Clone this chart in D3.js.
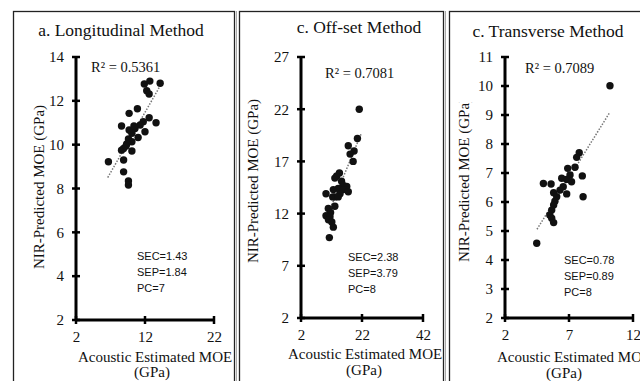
<!DOCTYPE html>
<html>
<head>
<meta charset="utf-8">
<script src="https://cdn.jsdelivr.net/npm/d3@7"></script>
<style>
  body { margin: 0; background: #fff; }
  svg { display: block; }
</style>
</head>
<body>
<svg id="chart" width="640" height="381"></svg>
<script>
// titles and notes
var titles = ["a. Longitudinal Method", "c. Off-set Method", "c. Transverse Method"];
var r2Labels = ["R\u00b2 = 0.5361", "R\u00b2 = 0.7081", "R\u00b2 = 0.7089"];
var statLines = [["SEC=1.43", "SEP=1.84", "PC=7"],
                 ["SEC=2.38", "SEP=3.79", "PC=8"],
                 ["SEC=0.78", "SEP=0.89", "PC=8"]];
var yTitle = "NIR-Predicted MOE (GPa)";
var xTitle = ["Acoustic Estimated MOE", "(GPa)"];

// tick values
var xTicks = [[2, 12, 22], [2, 22, 42], [2, 7, 12]];
var yTicks = [[2, 4, 6, 8, 10, 12, 14], [2, 7, 12, 17, 22, 27], [2, 3, 4, 5, 6, 7, 8, 9, 10, 11]];

// a. longitudinal (acoustic vs NIR)
var longX = [11.9, 12.7, 14.2, 12.25, 12.6, 9.7, 10.9, 8.6, 12.6, 13.6, 11.75, 11.3, 10.55, 9.7, 10.1,
             12.0, 11.0, 9.6, 10.1, 9.35, 8.9, 8.6, 10.1, 6.7, 8.9, 8.9, 9.6, 9.6, 10.4, 9.25];
var longY = [12.77, 12.9, 12.8, 12.46, 12.31, 11.43, 11.64, 10.85, 11.23, 11.0, 11.05, 10.9, 10.74, 10.67, 10.52,
             10.59, 10.33, 10.26, 10.13, 10.03, 9.83, 9.75, 9.71, 9.22, 9.3, 8.76, 8.34, 8.16, 10.85, 9.94];

// c. off-set
var offX = [21.1, 20.5, 17.5, 19.4, 18.1, 19.1, 14.6, 13.7, 13.1, 15.3, 15.9, 17.0, 14.2, 15.9, 17.5,
            12.6, 14.8, 10.2, 13.1, 12.4, 14.2, 13.1, 10.95, 11.7, 10.2, 11.5, 11.0, 12.1, 12.6, 11.3];
var offY = [22.0, 19.2, 18.5, 18.0, 17.7, 17.0, 15.9, 15.6, 15.4, 15.1, 14.7, 14.6, 14.4, 14.3, 14.1,
            14.3, 13.9, 13.9, 13.6, 13.6, 13.6, 12.7, 12.5, 12.1, 11.8, 11.7, 11.4, 11.2, 10.7, 9.7];

// c. transverse
var transX = [10.2, 7.8, 7.6, 7.47, 6.9, 7.08, 8.04, 6.43, 6.82, 7.2, 5.0, 5.6, 6.55, 6.3, 5.8,
              6.82, 8.1, 6.04, 5.9, 5.8, 5.65, 5.5, 5.65, 5.8, 4.48];
var transY = [10.01, 7.7, 7.54, 7.2, 7.16, 6.93, 6.9, 6.82, 6.78, 6.7, 6.64, 6.62, 6.53, 6.41, 6.32,
              6.28, 6.18, 6.18, 6.03, 5.9, 5.72, 5.55, 5.44, 5.29, 4.58];

// trendline ends
var trendX = [[6.6, 14.5], [10.2, 21.8], [4.5, 10.2]];
var trendY = [[8.5, 12.85], [11.5, 19.7], [5.06, 9.1]];

var seriesX = [longX, offX, transX],
    seriesY = [longY, offY, transY];

// layout of each panel
var panels = [
  {frame: [13, 234], xr: [76, 214], yr: [320, 57], title: [121, 36], r2: [91, 72], stats: [137, 260],
   yt: [44, 187], xt1: [78, 362], xt2: [152, 377]},
  {frame: [239, 443], xr: [301, 423], yr: [318, 57], title: [359, 33], r2: [325, 78], stats: [348, 261],
   yt: [258, 181], xt1: [288, 359], xt2: [364, 375]},
  {frame: [449, 700], xr: [505, 633], yr: [318, 57], title: [548, 37], r2: [525, 73], stats: [564, 264],
   yt: [469, 180], xt1: [497, 362], xt2: [564, 378]}
];

var svg = d3.select("#chart");
var serif = "'Liberation Serif', 'Times New Roman', serif";

// the third y title is cut at the top in the original
svg.append("defs").append("clipPath")
    .attr("id", "clipY3")
  .append("rect")
    .attr("x", 440).attr("y", 102.5).attr("width", 60).attr("height", 281);

panels.forEach(function(p, i) {
  var g = svg.append("g");

  // frame
  g.append("rect")
    .attr("x", p.frame[0] + 0.5).attr("y", 11.5)
    .attr("width", p.frame[1] - p.frame[0]).attr("height", 400)
    .attr("fill", "none").attr("stroke", "#222").attr("stroke-width", 1.3);
  g.append("line")
    .attr("x1", p.frame[1] + 2.5).attr("x2", p.frame[1] + 2.5)
    .attr("y1", 11).attr("y2", 381)
    .attr("stroke", "#aaa").attr("stroke-width", 1);

  var xd = d3.extent(xTicks[i]), yd = d3.extent(yTicks[i]);
  var x = d3.scaleLinear().domain(xd).range(p.xr);
  var y = d3.scaleLinear().domain(yd).range(p.yr);

  // tick labels via d3 axes
  var xa = g.append("g")
    .attr("transform", "translate(0," + p.yr[0] + ")")
    .call(d3.axisBottom(x).tickValues(xTicks[i]).tickSize(0).tickPadding(11));
  var ya = g.append("g")
    .attr("transform", "translate(" + p.xr[0] + ",0)")
    .call(d3.axisLeft(y).tickValues(yTicks[i]).tickSize(0).tickPadding(12));
  [xa, ya].forEach(function(a) {
    a.select(".domain").remove();
    a.selectAll("text").attr("font-family", serif).attr("font-size", "15px").attr("fill", "#111");
  });

  // axis lines
  g.append("line")
    .attr("x1", p.xr[0]).attr("x2", p.xr[1] + 1)
    .attr("y1", p.yr[0]).attr("y2", p.yr[0])
    .attr("stroke", "#000").attr("stroke-width", 3);
  g.append("line")
    .attr("x1", p.xr[0]).attr("x2", p.xr[0])
    .attr("y1", p.yr[0] + 1).attr("y2", p.yr[1])
    .attr("stroke", "#000").attr("stroke-width", 3);

  // cross ticks
  g.selectAll(".xt").data(xTicks[i]).enter().append("line")
    .attr("x1", function(d) { return x(d); }).attr("x2", function(d) { return x(d); })
    .attr("y1", p.yr[0] - 4).attr("y2", p.yr[0] + 4)
    .attr("stroke", "#000").attr("stroke-width", 2.5);
  g.selectAll(".yt").data(yTicks[i]).enter().append("line")
    .attr("x1", p.xr[0] - 4).attr("x2", p.xr[0] + 4)
    .attr("y1", function(d) { return y(d); }).attr("y2", function(d) { return y(d); })
    .attr("stroke", "#000").attr("stroke-width", 2.5);

  // trendline
  g.append("line")
    .attr("x1", x(trendX[i][0])).attr("y1", y(trendY[i][0]))
    .attr("x2", x(trendX[i][1])).attr("y2", y(trendY[i][1]))
    .attr("stroke", "#777").attr("stroke-width", 1.5)
    .attr("stroke-dasharray", "1.5,1.5");

  // points
  g.selectAll("circle")
    .data(seriesX[i].map(function(v, k) { return [v, seriesY[i][k]]; }))
    .enter().append("circle")
    .attr("cx", function(d) { return x(d[0]); })
    .attr("cy", function(d) { return y(d[1]); })
    .attr("r", 3.7)
    .attr("fill", "#111");

  // title
  g.append("text")
    .attr("x", p.title[0]).attr("y", p.title[1])
    .attr("text-anchor", "middle")
    .attr("font-family", serif).attr("font-size", "17.5px").attr("fill", "#111")
    .text(titles[i]);

  g.append("text")
    .attr("x", p.r2[0]).attr("y", p.r2[1])
    .attr("font-family", serif).attr("font-size", "14.5px").attr("fill", "#111")
    .text(r2Labels[i]);

  g.selectAll(".stat").data(statLines[i]).enter().append("text")
    .attr("x", p.stats[0])
    .attr("y", function(d, k) { return p.stats[1] + k * 16; })
    .attr("font-family", "'Liberation Sans', Arial, sans-serif").attr("font-size", "11px")
    .attr("fill", "#111")
    .text(function(d) { return d; });

  // axis titles
  var yt = g.append("text")
    .attr("transform", "translate(" + p.yt[0] + "," + p.yt[1] + ") rotate(-90)")
    .attr("text-anchor", "middle")
    .attr("font-family", serif).attr("font-size", "15px").attr("fill", "#111")
    .text(yTitle);
  if (i === 2) {
    g.append("g").attr("clip-path", "url(#clipY3)").node().appendChild(yt.node());
  }

  g.append("text")
    .attr("x", p.xt1[0]).attr("y", p.xt1[1])
    .attr("font-family", serif).attr("font-size", "15px").attr("fill", "#111")
    .text(xTitle[0]);
  g.append("text")
    .attr("x", p.xt2[0]).attr("y", p.xt2[1])
    .attr("text-anchor", "middle")
    .attr("font-family", serif).attr("font-size", "15px").attr("fill", "#111")
    .text(xTitle[1]);
});
</script>
</body>
</html>
